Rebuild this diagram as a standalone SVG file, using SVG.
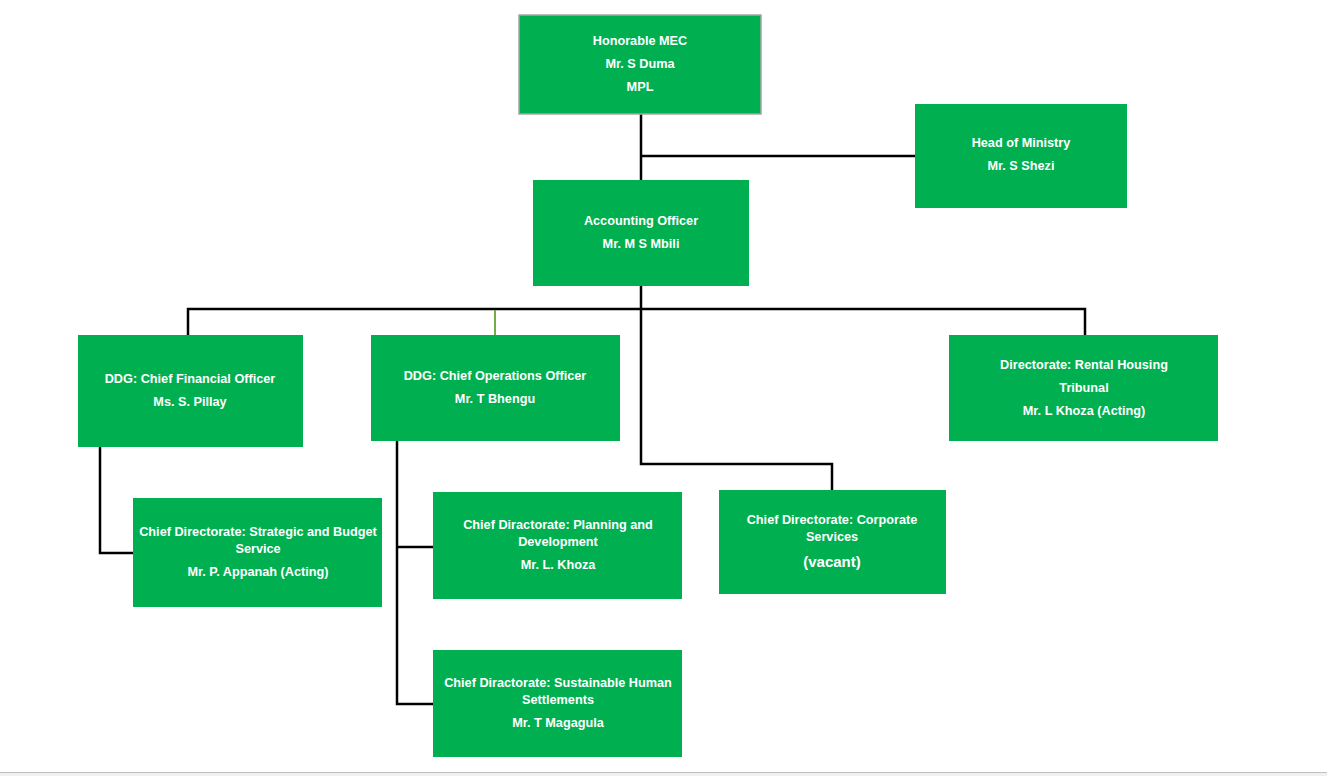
<svg xmlns="http://www.w3.org/2000/svg" width="1327" height="776" viewBox="0 0 1327 776">
<style>
.box{fill:#00B050}
.t{font-family:"Liberation Sans",Arial,sans-serif;font-weight:bold;font-size:12.7px;fill:#fff;text-anchor:middle;dominant-baseline:central}
.c{fill:none;stroke:#000;stroke-width:2.5}
</style>
<rect x="0" y="0" width="1327" height="776" fill="#fff"/>
<g id="connectors">
<path class="c" d="M641 114V180M641 156H915"/>
<path class="c" d="M641 286V464H832V490"/>
<path class="c" d="M188 335V309H1085V335"/>
<path d="M495 310V335" stroke="#70AD47" stroke-width="2" fill="none"/>
<path class="c" d="M100 447V553H133"/>
<path class="c" d="M397 441V704H433M397 547H433"/>
</g>
<g id="mec"><rect class="box" x="519" y="15" width="242" height="99" stroke="#a6a6a6" stroke-width="1.5"/>
<text class="t" x="640" y="41">Honorable MEC</text><text class="t" x="640" y="64">Mr. S Duma</text><text class="t" x="640" y="87">MPL</text></g>
<g id="head"><rect class="box" x="915" y="104" width="212" height="104"/>
<text class="t" x="1021" y="143">Head of Ministry</text><text class="t" x="1021" y="166">Mr. S Shezi</text></g>
<g id="ao"><rect class="box" x="533" y="180" width="216" height="106"/>
<text class="t" x="641" y="221">Accounting Officer</text><text class="t" x="641" y="244">Mr. M S Mbili</text></g>
<g id="cfo"><rect class="box" x="78" y="335" width="225" height="112"/>
<text class="t" x="190" y="379">DDG: Chief Financial Officer</text><text class="t" x="190" y="402">Ms. S. Pillay</text></g>
<g id="coo"><rect class="box" x="371" y="335" width="249" height="106"/>
<text class="t" x="495" y="376">DDG: Chief Operations Officer</text><text class="t" x="495" y="399">Mr. T Bhengu</text></g>
<g id="rental"><rect class="box" x="949" y="335" width="269" height="106"/>
<text class="t" x="1084" y="365">Directorate: Rental Housing</text><text class="t" x="1084" y="388">Tribunal</text><text class="t" x="1084" y="411">Mr. L Khoza (Acting)</text></g>
<g id="strategic"><rect class="box" x="133" y="498" width="249" height="109"/>
<text class="t" x="258" y="532">Chief Directorate: Strategic and Budget</text><text class="t" x="258" y="549">Service</text><text class="t" x="258" y="572">Mr. P. Appanah (Acting)</text></g>
<g id="planning"><rect class="box" x="433" y="492" width="249" height="107"/>
<text class="t" x="558" y="525">Chief Diractorate: Planning and</text><text class="t" x="558" y="542">Development</text><text class="t" x="558" y="565">Mr. L. Khoza</text></g>
<g id="corporate"><rect class="box" x="719" y="490" width="227" height="104"/>
<text class="t" x="832" y="520">Chief Directorate: Corporate</text><text class="t" x="832" y="537">Services</text><text class="t" x="832" y="561" style="font-size:15px">(vacant)</text></g>
<g id="sustainable"><rect class="box" x="433" y="650" width="249" height="107"/>
<text class="t" x="558" y="683">Chief Diractorate: Sustainable Human</text><text class="t" x="558" y="700">Settlements</text><text class="t" x="558" y="723">Mr. T Magagula</text></g>
<rect x="0" y="772" width="1327" height="4" fill="#f0f0f0"/>
<line x1="0" y1="772.5" x2="1327" y2="772.5" stroke="#bfbfbf" stroke-width="1"/>
</svg>
